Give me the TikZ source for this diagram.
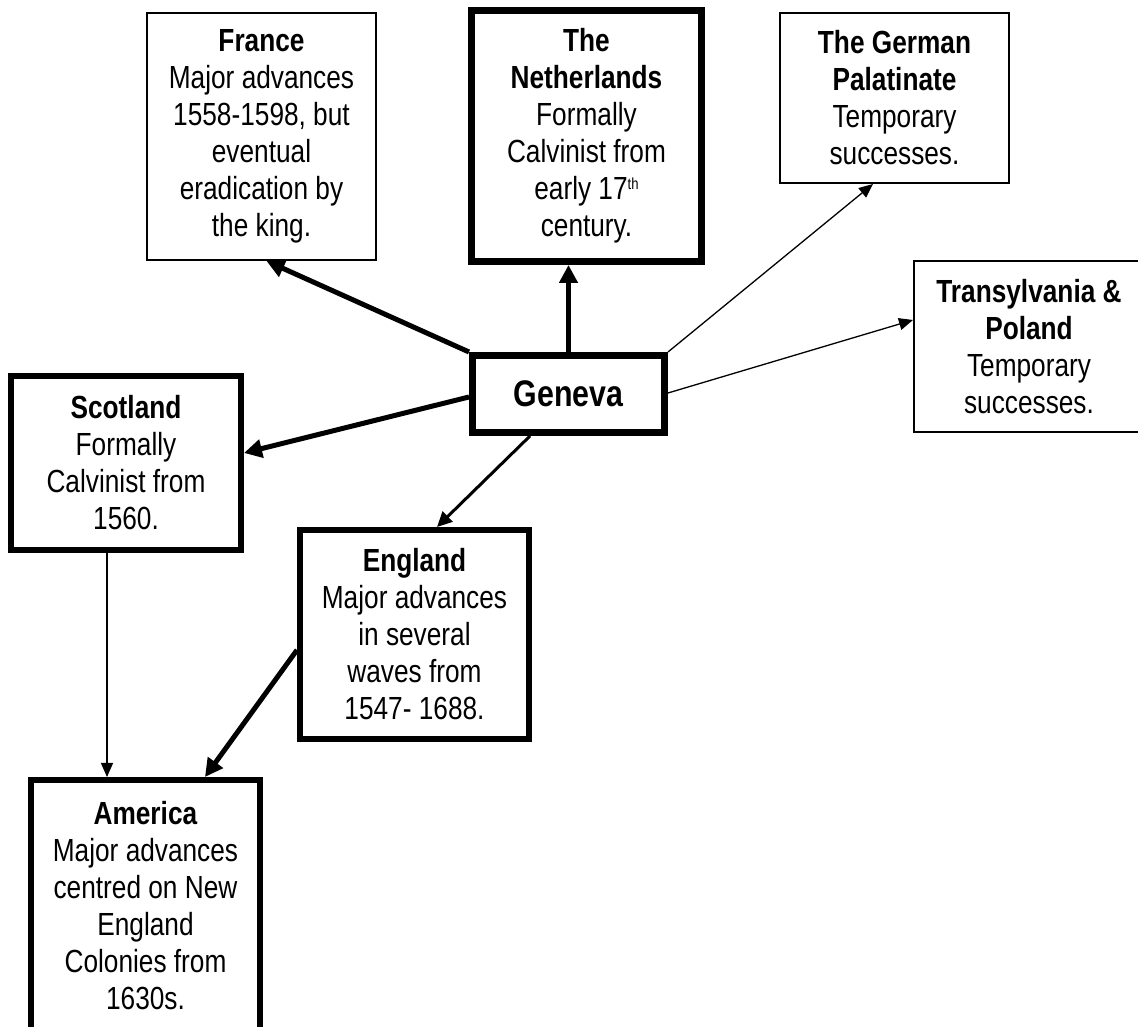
\documentclass[tikz,border=0pt]{standalone}
\usepackage{fontspec}
\setmainfont{Liberation Sans}[FakeStretch=0.82]
\usetikzlibrary{arrows.meta}
\begin{document}
\begin{tikzpicture}[x=1pt,y=1pt,
  box/.style={draw=black, align=center, inner sep=0pt, font=\fontsize{32}{37}\selectfont},
  thinbox/.style={box, line width=2pt},
  thickbox/.style={box, line width=6pt},
  heavybox/.style={box, line width=7pt},
  thickarrow/.style={line width=5pt, -{Triangle[length=18pt,width=18pt]}},
  midarrow/.style={line width=3pt, -{Triangle[length=15pt,width=14pt]}},
  thinarrow/.style={line width=1.3pt, -{Triangle[length=14pt,width=12pt]}},
]
\fill[white] (0,0) rectangle (1138,1027);
\useasboundingbox (0,0) rectangle (1138,1027);
\clip (0,0) rectangle (1138,1027);

\node[thinbox, minimum width=229pt, minimum height=247pt] (france) at (261.5,890.5)
  {\textbf{France}\\Major advances\\1558-1598, but\\eventual\\eradication by\\the king.};
\node[heavybox, minimum width=230pt, minimum height=251pt] (nether) at (586.5,891)
  {\textbf{The}\\\textbf{Netherlands}\\Formally\\Calvinist from\\early 17\raisebox{10pt}{\fontsize{16}{16}\selectfont th}\\century.};
\node[thinbox, minimum width=229pt, minimum height=170pt] (german) at (894.5,929)
  {\textbf{The German}\\\textbf{Palatinate}\\Temporary\\successes.};
\node[thinbox, minimum width=230pt, minimum height=171pt] (trans) at (1029,680.5)
  {\textbf{Transylvania \&}\\\textbf{Poland}\\Temporary\\successes.};
\node[heavybox, minimum width=192pt, minimum height=77pt, font=\bfseries\fontsize{37}{42}\selectfont] (geneva) at (568.5,633)
  {Geneva};
\node[thickbox, minimum width=230pt, minimum height=174pt] (scotland) at (126,564)
  {\textbf{Scotland}\\Formally\\Calvinist from\\1560.};
\node[thickbox, minimum width=229pt, minimum height=209pt] (england) at (414.5,392.5)
  {\textbf{England}\\Major advances\\in several\\waves from\\1547- 1688.};
\node[thickbox, minimum width=229pt, minimum height=252pt] (america) at (145.5,121)
  {\textbf{America}\\Major advances\\centred on New\\England\\Colonies from\\1630s.};

\draw[thickarrow] (geneva.north west) -- ([xshift=5pt]france.south);
\draw[thickarrow] (geneva.north) -- (geneva.north |- nether.south);
\draw[thinarrow] (geneva.north east) -- ([xshift=-21.5pt]german.south);
\draw[thinarrow] ([yshift=1pt]geneva.east) -- ([yshift=26.5pt]trans.west);
\draw[thickarrow] ([yshift=-3pt]geneva.west) -- ([yshift=10pt]scotland.east);
\draw[midarrow] ([xshift=-38.5pt]geneva.south) -- ([xshift=22.5pt]england.north);
\draw[thinarrow] ([xshift=-19pt]scotland.south) -- ([xshift=-19pt]scotland.south |- america.north);
\draw[thickarrow] ([yshift=-15.5pt]england.west) -- ([xshift=59.5pt]america.north);
\end{tikzpicture}
\end{document}
